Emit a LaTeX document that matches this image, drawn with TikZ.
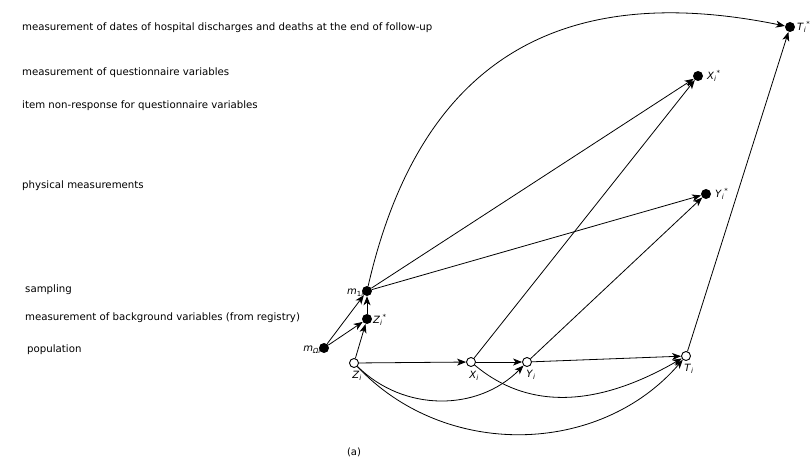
\documentclass[tikz,border=0pt]{standalone}
\usepackage{fontspec}
\setmainfont{DejaVu Sans}
\usetikzlibrary{arrows.meta}
\newcommand\vl[2]{\textit{#1}\textsubscript{#2}}
\begin{document}
\begin{tikzpicture}[x=1pt,y=-1pt,
  dotnode/.style={circle, fill=black, inner sep=0pt, minimum size=10pt},
  opennode/.style={circle, draw=black, fill=white, line width=0.9pt, inner sep=0pt, minimum size=9pt},
  arr/.style={-{Stealth[length=9pt,width=7pt,inset=2.5pt]}, line width=0.8pt},
  lbl/.style={font=\fontsize{10}{12}\selectfont, inner sep=0pt},
  side/.style={font=\fontsize{10.2}{12}\selectfont, inner sep=0pt, anchor=west}]
\useasboundingbox (0,0) rectangle (810,462);
% left texts
\node[side] (t1) at (22,28) {measurement of dates of hospital discharges and deaths at the end of follow-up};
\node[side] (t2) at (22,73) {measurement of questionnaire variables};
\node[side] (t3) at (22,106) {item non-response for questionnaire variables};
\node[side] (t4) at (22,186) {physical measurements};
\node[side] (t5) at (25,290) {sampling};
\node[side] (t6) at (25,318) {measurement of background variables (from registry)};
\node[side] (t7) at (27,350) {population};
% nodes
\node[dotnode] (Ts) at (790,27) {};
\node[dotnode] (Xs) at (698,76) {};
\node[dotnode] (Ys) at (706,194) {};
\node[dotnode] (m1) at (367,291) {};
\node[dotnode] (Zs) at (367,319) {};
\node[dotnode] (mO) at (324,348) {};
\node[opennode] (Z) at (354,363) {};
\node[opennode] (X) at (471,362) {};
\node[opennode] (Y) at (527,362) {};
\node[opennode] (T) at (686,356) {};
% labels
\node[lbl, anchor=west] (lTs) at (797,27) {\vl{T}{\textit{i}}\textsuperscript{*}};
\node[lbl, anchor=west] (lXs) at (707,76) {\vl{X}{\textit{i}}\textsuperscript{*}};
\node[lbl, anchor=west] (lYs) at (715,194) {\vl{Y}{\textit{i}}\textsuperscript{*}};
\node[lbl, anchor=east] (lm1) at (364,293) {\vl{m}{1\textit{i}}};
\node[lbl, anchor=west] (lZs) at (373,320) {\vl{Z}{\textit{i}}\textsuperscript{*}};
\node[lbl, anchor=east] (lmO) at (321,350) {\vl{m}{\textit{Ωi}}};
\node[lbl] (lZ) at (357,376) {\vl{Z}{\textit{i}}};
\node[lbl] (lX) at (474,376) {\vl{X}{\textit{i}}};
\node[lbl] (lY) at (531,375) {\vl{Y}{\textit{i}}};
\node[lbl] (lT) at (689,369) {\vl{T}{\textit{i}}};
\node[lbl] (cap) at (354,452) {(a)};
% edges
\draw[arr] (Z) -- (X);
\draw[arr] (X) -- (Y);
\draw[arr] (Y) -- (T);
\draw[arr] (Z) -- (Zs);
\draw[arr] (Zs) -- (m1);
\draw[arr] (mO) -- (m1);
\draw[arr] (mO) -- (Zs);
\draw[arr] (m1) -- (Xs);
\draw[arr] (m1) -- (Ys);
\draw[arr] (X) -- (Xs);
\draw[arr] (Y) -- (Ys);
\draw[arr] (T) -- (Ts);
\draw[arr] (m1) .. controls (420,60) and (560,-20) .. (Ts);
\draw[arr] (Z) to[bend right=45] (Y);
\draw[arr] (X) to[out=-40,in=210] (T);
\draw[arr] (Z) to[bend right=48] (T);
\end{tikzpicture}
\end{document}
